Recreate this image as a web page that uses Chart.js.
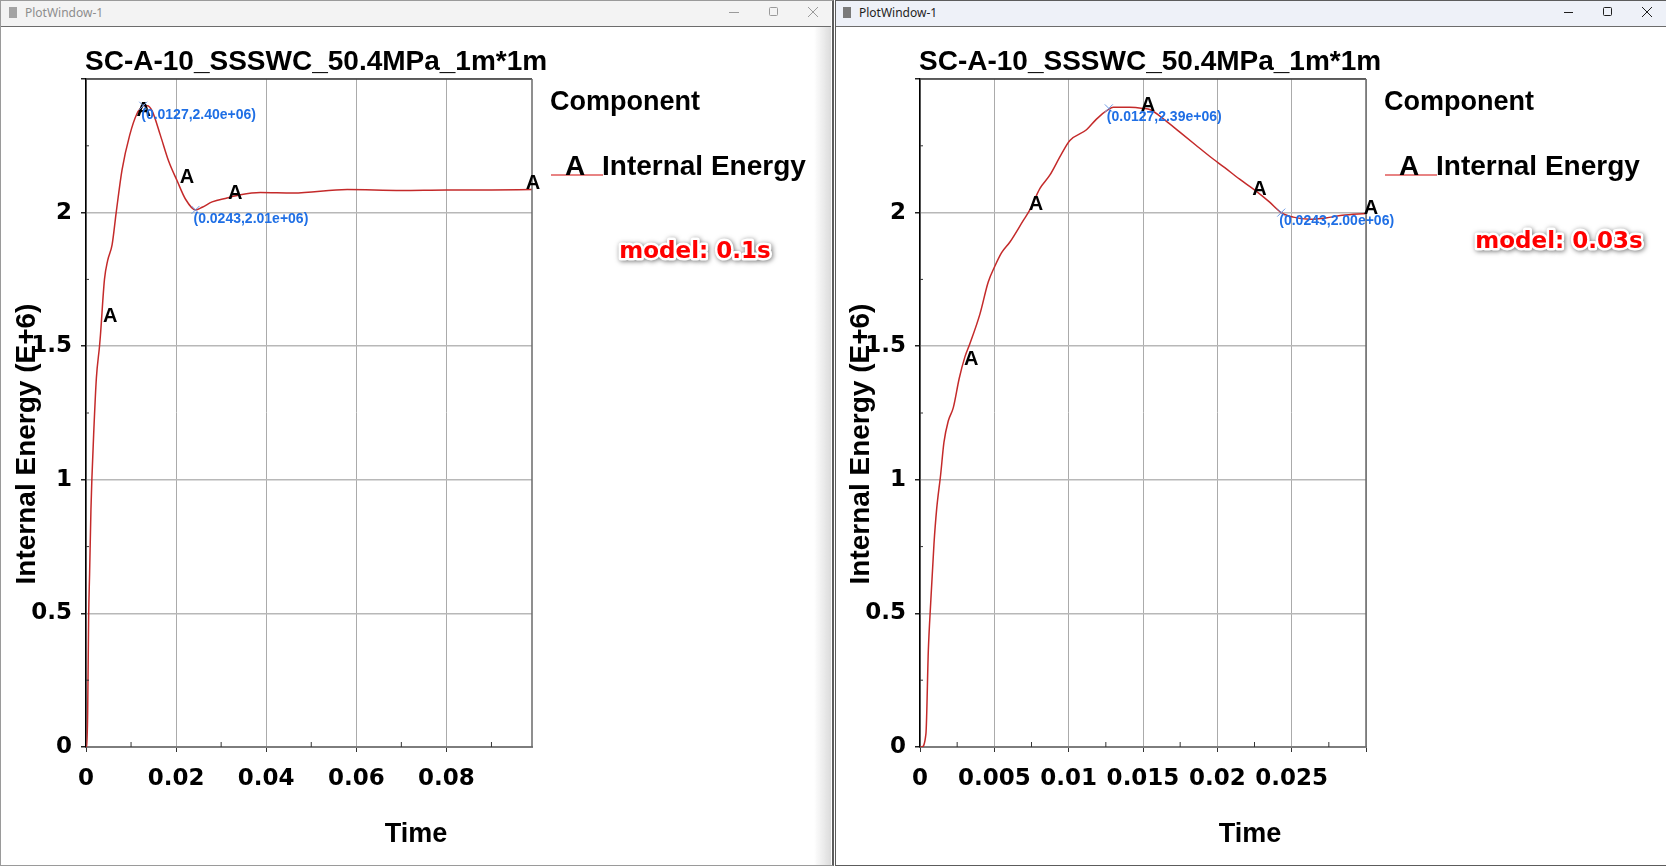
<!DOCTYPE html>
<html>
<head>
<meta charset="utf-8">
<title>PlotWindow-1</title>
<script src="https://cdn.jsdelivr.net/npm/chart.js@4.4.1/dist/chart.umd.min.js"></script>
<style>
  html, body { margin: 0; padding: 0; background: #fff; }
  body { position: relative; width: 1666px; height: 867px; overflow: hidden; }
  .frame { position: absolute; top: 0; height: 866px; box-sizing: border-box; }
  .bar { position: absolute; top: 0; height: 27px; }
  canvas { position: absolute; top: 27px; }
</style>
</head>
<body>

<div class="frame" style="left:0;width:834px;border:1px solid #9a9a9a;border-right:2px solid #5c5c5c;"></div>
<div class="frame" style="left:835px;width:840px;border:1px solid #5c5c5c;"></div>

<svg class="bar" style="left:0;" width="833" height="27">
  <rect x="1" y="1" width="830" height="25" fill="#f3f3f3"/>
  <line x1="1" y1="26.5" x2="831" y2="26.5" stroke="#6c6c6c"/>
  <rect x="9" y="7" width="8" height="11" fill="#a3a3a3"/>
  <text x="25" y="17" font-family="Noto Sans, DejaVu Sans, sans-serif" font-size="12" fill="#8d8d8d">PlotWindow-1</text>
  <line x1="729" y1="12.5" x2="739" y2="12.5" stroke="#9a9a9a"/>
  <rect x="769.5" y="7.5" width="8" height="8" rx="1" fill="none" stroke="#9a9a9a"/>
  <path d="M808 7 L818 17 M818 7 L808 17" stroke="#9a9a9a"/>
</svg>
<svg class="bar" style="left:835px;" width="831" height="27">
  <rect x="1" y="1" width="830" height="25" fill="#eef1f8"/>
  <line x1="1" y1="26.5" x2="831" y2="26.5" stroke="#6c6c6c"/>
  <rect x="8" y="7" width="8" height="11" fill="#7a7a7a"/>
  <text x="24" y="17" font-family="Noto Sans, DejaVu Sans, sans-serif" font-size="12" fill="#1e1e1e">PlotWindow-1</text>
  <line x1="729" y1="12.5" x2="738" y2="12.5" stroke="#1e1e1e"/>
  <rect x="768.5" y="7.5" width="8" height="8" rx="1" fill="none" stroke="#1e1e1e"/>
  <path d="M807 7 L817 17 M817 7 L807 17" stroke="#1e1e1e"/>
</svg>

<canvas id="plotA" width="829" height="838" style="left:2px;"></canvas>
<canvas id="plotB" width="829" height="838" style="left:836px;"></canvas>
<div style="position:absolute;left:814px;top:27px;width:17px;height:838px;background:linear-gradient(to right,rgba(255,255,255,0),rgba(190,190,190,0.55));"></div>

<script>
const chartTitle = 'SC-A-10_SSSWC_50.4MPa_1m*1m';
const yAxisTitle = 'Internal Energy (E+6)';
const xAxisTitle = 'Time';
const legendTitle = 'Component';
const seriesLabel = 'Internal Energy';
const seriesSymbol = 'A';

// y axis, in E+6
const yMin = 0;
const yMax = 2.5;
const yStep = 0.5;

// model: 0.1s
const timeA = [0, 0.0002, 0.00037, 0.00059, 0.0008, 0.0011, 0.0013, 0.0017, 0.0023, 0.003, 0.0032, 0.0041, 0.0048,
  0.0058, 0.0067, 0.008, 0.0097, 0.0113, 0.0124, 0.0127, 0.0136, 0.0147, 0.0165, 0.0184, 0.0202, 0.0221, 0.0243,
  0.0258, 0.028, 0.0313, 0.0343, 0.0387, 0.046, 0.058, 0.07, 0.08, 0.09, 0.099];
const energyA = [0, 0, 0.13, 0.49, 0.65, 0.89, 1.0, 1.17, 1.38, 1.5, 1.54, 1.75, 1.82,
  1.88, 2.0, 2.16, 2.29, 2.37, 2.395, 2.4, 2.4, 2.38, 2.29, 2.19, 2.12, 2.05, 2.01,
  2.02, 2.04, 2.055, 2.067, 2.075, 2.073, 2.086, 2.083, 2.085, 2.085, 2.086];
const symbolTimeA = [0.0038, 0.0112, 0.0208, 0.0315, 0.0976];
const symbolEnergyA = [1.59, 2.36, 2.11, 2.05, 2.09];
const pickTimeA = [0.0127, 0.0243];
const pickEnergyA = [2.40, 2.01];

// model: 0.03s
const timeB = [0, 0.0001, 0.0004, 0.00056, 0.00072, 0.00094, 0.00112, 0.00139, 0.00161, 0.0019, 0.00224, 0.00264,
  0.00302, 0.00336, 0.00403, 0.00459, 0.00504, 0.00549, 0.00605, 0.00694, 0.00739, 0.00806, 0.00873, 0.00952,
  0.01008, 0.0112, 0.01187, 0.01265, 0.013, 0.01411, 0.015, 0.0155, 0.0165, 0.0175, 0.0185, 0.0195, 0.0205,
  0.0215, 0.0225, 0.0235, 0.0243, 0.0251, 0.0262, 0.0273, 0.0284, 0.03];
const energyB = [0, 0, 0.05, 0.36, 0.54, 0.76, 0.89, 1.02, 1.14, 1.22, 1.27, 1.38,
  1.46, 1.51, 1.62, 1.74, 1.8, 1.85, 1.89, 1.97, 2.01, 2.09, 2.14, 2.22,
  2.27, 2.31, 2.35, 2.385, 2.394, 2.394, 2.39, 2.385, 2.345, 2.3, 2.255, 2.21, 2.168,
  2.125, 2.085, 2.04, 2.0, 1.983, 1.975, 1.98, 1.99, 1.997];
const symbolTimeB = [0.00296, 0.00732, 0.01485, 0.02235, 0.02985];
const symbolEnergyB = [1.43, 2.01, 2.38, 2.065, 1.995];
const pickTimeB = [0.0127, 0.0243];
const pickEnergyB = [2.39, 2.00];

const ARIAL = '"Liberation Sans", Arial, sans-serif';
const DEJAVU = '"DejaVu Sans", sans-serif';

function line(ctx, x1, y1, x2, y2) {
  ctx.beginPath();
  ctx.moveTo(x1, y1);
  ctx.lineTo(x2, y2);
  ctx.stroke();
}

function decor(o) {
  return {
    id: 'decor',
    afterDraw(chart) {
      const ctx = chart.ctx, ca = chart.chartArea;
      const xs = chart.scales.x, ys = chart.scales.y;
      ctx.save();

      // top and right of the frame
      ctx.lineWidth = 1.5;
      ctx.strokeStyle = '#3a3a3a';
      line(ctx, ca.left, ca.top, ca.right, ca.top);
      ctx.strokeStyle = '#6a6a6a';
      line(ctx, ca.right, ca.top, ca.right, ca.bottom);

      // minor ticks
      ctx.lineWidth = 1;
      ctx.strokeStyle = '#333';
      for (let v = yStep / 2; v < yMax; v += yStep) {
        const p = ys.getPixelForValue(v);
        line(ctx, ca.left, p, ca.left + 3, p);
      }
      for (let v = o.xStep / 2; v < o.xMax; v += o.xStep) {
        const p = xs.getPixelForValue(v);
        line(ctx, p, ca.bottom, p, ca.bottom - 5);
      }

      // curve symbols
      ctx.fillStyle = '#000';
      ctx.font = 'bold 20px ' + ARIAL;
      ctx.textAlign = 'left';
      ctx.textBaseline = 'alphabetic';
      o.symT.forEach((t, i) => {
        ctx.fillText(seriesSymbol, xs.getPixelForValue(t), ys.getPixelForValue(o.symE[i]));
      });

      // picked points
      o.pickT.forEach((t, i) => {
        const px = xs.getPixelForValue(t), py = ys.getPixelForValue(o.pickE[i]);
        ctx.strokeStyle = '#6c9be4';
        ctx.lineWidth = 1;
        line(ctx, px - 4, py - 4, px + 4, py + 4);
        line(ctx, px + 4, py - 4, px - 4, py + 4);
        ctx.fillStyle = '#1f6fe5';
        ctx.font = 'bold 14px ' + ARIAL;
        ctx.textBaseline = 'top';
        ctx.fillText('(' + t + ',' + o.pickE[i].toFixed(2) + 'e+06)', px - 2, py + 2);
      });

      // titles
      ctx.fillStyle = '#000';
      ctx.textBaseline = 'alphabetic';
      ctx.textAlign = 'left';
      ctx.font = 'bold 28px ' + ARIAL;
      ctx.fillText(chartTitle, ca.left - 1, ca.top - 9);

      ctx.textAlign = 'center';
      ctx.font = 'bold 27px ' + ARIAL;
      ctx.fillText(xAxisTitle, ca.left + 330, ca.bottom + 95);

      ctx.save();
      ctx.translate(ca.left - 51, ca.top + 365);
      ctx.rotate(-Math.PI / 2);
      ctx.font = 'bold 28px ' + ARIAL;
      ctx.fillText(yAxisTitle, 0, 0);
      ctx.restore();

      // legend
      ctx.textAlign = 'left';
      ctx.font = 'bold 27px ' + ARIAL;
      ctx.fillText(legendTitle, ca.right + 18, ca.top + 31);
      ctx.strokeStyle = '#e05a5a';
      ctx.lineWidth = 1.5;
      line(ctx, ca.right + 19, ca.top + 96, ca.right + 71, ca.top + 96);
      ctx.font = 'bold 28px ' + ARIAL;
      ctx.fillText(seriesSymbol, ca.right + 33, ca.top + 96);
      ctx.fillText(seriesLabel, ca.right + 70, ca.top + 96);

      // model note
      ctx.textAlign = 'center';
      ctx.font = 'bold 23px ' + DEJAVU;
      ctx.lineJoin = 'round';
      ctx.shadowColor = 'rgba(0,0,0,0.55)';
      ctx.shadowBlur = 5;
      ctx.shadowOffsetX = 1;
      ctx.shadowOffsetY = 1;
      ctx.strokeStyle = '#fff';
      ctx.lineWidth = 5;
      ctx.strokeText(o.note, ca.right + o.noteDx, ca.top + o.noteDy);
      ctx.shadowColor = 'rgba(0,0,0,0)';
      ctx.fillStyle = '#ff0000';
      ctx.fillText(o.note, ca.right + o.noteDx, ca.top + o.noteDy);

      ctx.restore();
    }
  };
}

function energyChart(id, o) {
  const tickFont = { family: DEJAVU, size: 23, weight: 'bold' };
  return new Chart(document.getElementById(id), {
    type: 'line',
    data: {
      datasets: [{
        label: seriesLabel,
        data: o.time.map((t, i) => ({ x: t, y: o.energy[i] })),
        borderColor: '#c42a2a',
        borderWidth: 1.5,
        pointRadius: 0,
        cubicInterpolationMode: 'monotone'
      }]
    },
    options: {
      responsive: false,
      animation: false,
      devicePixelRatio: 1,
      layout: { padding: { top: 52, right: 299, left: 0, bottom: 0 } },
      plugins: { legend: { display: false }, tooltip: { enabled: false } },
      scales: {
        x: {
          type: 'linear',
          min: 0,
          max: o.xMax,
          bounds: 'data',
          afterFit: s => { s.height = 118; },
          ticks: {
            stepSize: o.xStep,
            includeBounds: false,
            autoSkip: false,
            maxRotation: 0,
            color: '#000',
            font: tickFont,
            padding: 13,
            callback: v => (Math.abs(v - o.xMax) < 1e-9 ? '' : String(+v.toFixed(4)))
          },
          grid: { color: '#ababab', lineWidth: 1, tickLength: 5, tickColor: '#333' },
          border: { color: '#7d7d7d', width: 2 }
        },
        y: {
          min: yMin,
          max: yMax,
          bounds: 'data',
          afterFit: s => { s.width = 84; },
          ticks: {
            stepSize: yStep,
            color: '#000',
            font: tickFont,
            padding: 9,
            callback: v => (Math.abs(v - yMax) < 1e-9 ? '' : String(v))
          },
          grid: { color: '#b8b8b8', lineWidth: 1.5, tickLength: 5, tickColor: '#222' },
          border: { color: '#000', width: 1.5 }
        }
      }
    },
    plugins: [decor(o)]
  });
}

energyChart('plotA', {
  time: timeA, energy: energyA,
  symT: symbolTimeA, symE: symbolEnergyA,
  pickT: pickTimeA, pickE: pickEnergyA,
  xMax: 0.099, xStep: 0.02,
  note: 'model: 0.1s', noteDx: 163, noteDy: 179
});

energyChart('plotB', {
  time: timeB, energy: energyB,
  symT: symbolTimeB, symE: symbolEnergyB,
  pickT: pickTimeB, pickE: pickEnergyB,
  xMax: 0.03, xStep: 0.005,
  note: 'model: 0.03s', noteDx: 193, noteDy: 169
});
</script>
</body>
</html>
